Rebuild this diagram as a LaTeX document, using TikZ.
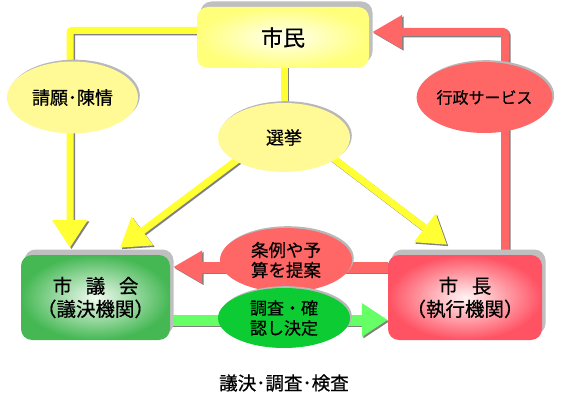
\documentclass[tikz,border=0pt]{standalone}
\usepackage{fontspec}
\setmainfont{Noto Sans CJK JP}[FakeBold=0.6]
\usetikzlibrary{shapes.geometric,arrows.meta,shadows,backgrounds,calc}
\definecolor{arrY}{HTML}{FFFF33}
\definecolor{ellY}{HTML}{FFFA96}
\definecolor{ellR}{HTML}{FF6666}
\definecolor{arrR}{HTML}{FF6666}
\definecolor{ellG}{HTML}{0DCC33}
\definecolor{arrG}{HTML}{66FF66}
\definecolor{shiminOut}{HTML}{FFFF7A}
\definecolor{shiminIn}{HTML}{FFFFF2}
\definecolor{gikaiOut}{HTML}{45B854}
\definecolor{gikaiIn}{HTML}{F2FBF2}
\definecolor{shichoOut}{HTML}{FF5263}
\definecolor{shichoIn}{HTML}{FFF4F4}
\begin{document}
\begin{tikzpicture}[x=1pt,y=-1pt,
  boxnode/.style={rectangle, rounded corners=11pt, inner sep=0pt, align=center,
    drop shadow={shadow xshift=3.5pt, shadow yshift=5.5pt, fill=black!25, opacity=1}},
  ellnode/.style={ellipse, inner sep=0pt, align=center,
    drop shadow={shadow xshift=1.8pt, shadow yshift=1.8pt, fill=black!28, opacity=1}},
  shad/.style={draw=black!50, transform canvas={shift={(1.5pt,-1.5pt)}}},
  yline/.style={draw=arrY, line width=7pt, rounded corners=2pt},
  yarr/.style={yline, -{Triangle[length=28pt,width=34pt]}},
  rarr/.style={draw=arrR, line width=8pt, rounded corners=2pt, -{Triangle[length=30pt,width=32pt]}},
  rarrb/.style={draw=arrR, line width=11pt, -{Triangle[length=29pt,width=31pt]}},
  garr/.style={draw=arrG, line width=11pt, -{Triangle[length=26pt,width=32pt]}},
]
\useasboundingbox (0,0) rectangle (582,404);

\node[boxnode, minimum width=172pt, minimum height=61pt, shade, inner color=shiminIn, outer color=shiminOut,
  font=\fontsize{22}{26}\selectfont] (shimin) at (283,37.5) {市民};
\node[boxnode, minimum width=149pt, minimum height=85pt, shade, inner color=gikaiIn, outer color=gikaiOut,
  font=\fontsize{19.5}{23}\selectfont] (gikai) at (95.5,297.5) {市\hspace{0.7em}議\hspace{0.7em}会\\（議決機関）};
\node[boxnode, minimum width=154pt, minimum height=85pt, shade, inner color=shichoIn, outer color=shichoOut,
  font=\fontsize{19.5}{23}\selectfont] (shicho) at (465,297.5) {市\hspace{0.7em}長\\（執行機関）};

\node[ellnode, minimum width=131pt, minimum height=72pt, fill=ellY, font=\fontsize{18}{22}\selectfont] (seigan) at (72.5,97.5) {請願･陳情};
\node[ellnode, minimum width=127pt, minimum height=71pt, fill=ellR, font=\fontsize{16}{20}\selectfont] (gyosei) at (484.5,97.5) {行政サービス};
\node[ellnode, minimum width=132pt, minimum height=69pt, fill=ellY, font=\fontsize{18}{22}\selectfont] (senkyo) at (284,137.5) {選挙};
\node[ellnode, minimum width=132pt, minimum height=64pt, fill=ellR, font=\fontsize{17.5}{20}\selectfont] (jorei) at (286,260) {条例や予\\算を提案};
\node[ellnode, minimum width=132pt, minimum height=60pt, fill=ellG, font=\fontsize{17}{20}\selectfont] (chosa) at (284,318) {調査・確\\認し決定};

\node[font=\fontsize{18.5}{22}\selectfont] (caption) at (284,383) {議決･調査･検査};

\begin{pgfonlayer}{background}
  % petitions: citizens -> council
  \draw[yarr, shad] ([yshift=7pt]shimin.west) -| ([xshift=-25.5pt,yshift=7pt]gikai.north);
  \draw[yarr] ([yshift=7pt]shimin.west) -| ([xshift=-25.5pt,yshift=7pt]gikai.north);
  % citizens -> election
  \draw[yline, shad] (senkyo.center |- shimin.center) -- (senkyo.center);
  \draw[yline] (senkyo.center |- shimin.center) -- (senkyo.center);
  % election -> council / mayor
  \draw[yarr, shad] ([xshift=-17pt]senkyo.center) -- ([xshift=24.5pt,yshift=7pt]gikai.north);
  \draw[yarr] ([xshift=-17pt]senkyo.center) -- ([xshift=24.5pt,yshift=7pt]gikai.north);
  \draw[yarr, shad] ([xshift=22pt]senkyo.center) -- ([xshift=-18pt,yshift=10pt]shicho.north);
  \draw[yarr] ([xshift=22pt]senkyo.center) -- ([xshift=-18pt,yshift=10pt]shicho.north);
  % services: mayor -> citizens
  \draw[rarr, shad] ([xshift=40pt]shicho.center) |- ([xshift=3pt,yshift=5.5pt]shimin.east);
  \draw[rarr] ([xshift=40pt]shicho.center) |- ([xshift=3pt,yshift=5.5pt]shimin.east);
  % proposals: mayor -> council
  \draw[rarrb, shad] ([yshift=30.5pt]shicho.west) -- ([xshift=3pt,yshift=30.5pt]gikai.east);
  \draw[rarrb] ([yshift=30.5pt]shicho.west) -- ([xshift=3pt,yshift=30.5pt]gikai.east);
  % decisions: council -> mayor
  \draw[garr, shad] ([yshift=-22.5pt]gikai.east) -- ([yshift=-22.5pt]shicho.west);
  \draw[garr] ([yshift=-22.5pt]gikai.east) -- ([yshift=-22.5pt]shicho.west);
\end{pgfonlayer}
\end{tikzpicture}
\end{document}
